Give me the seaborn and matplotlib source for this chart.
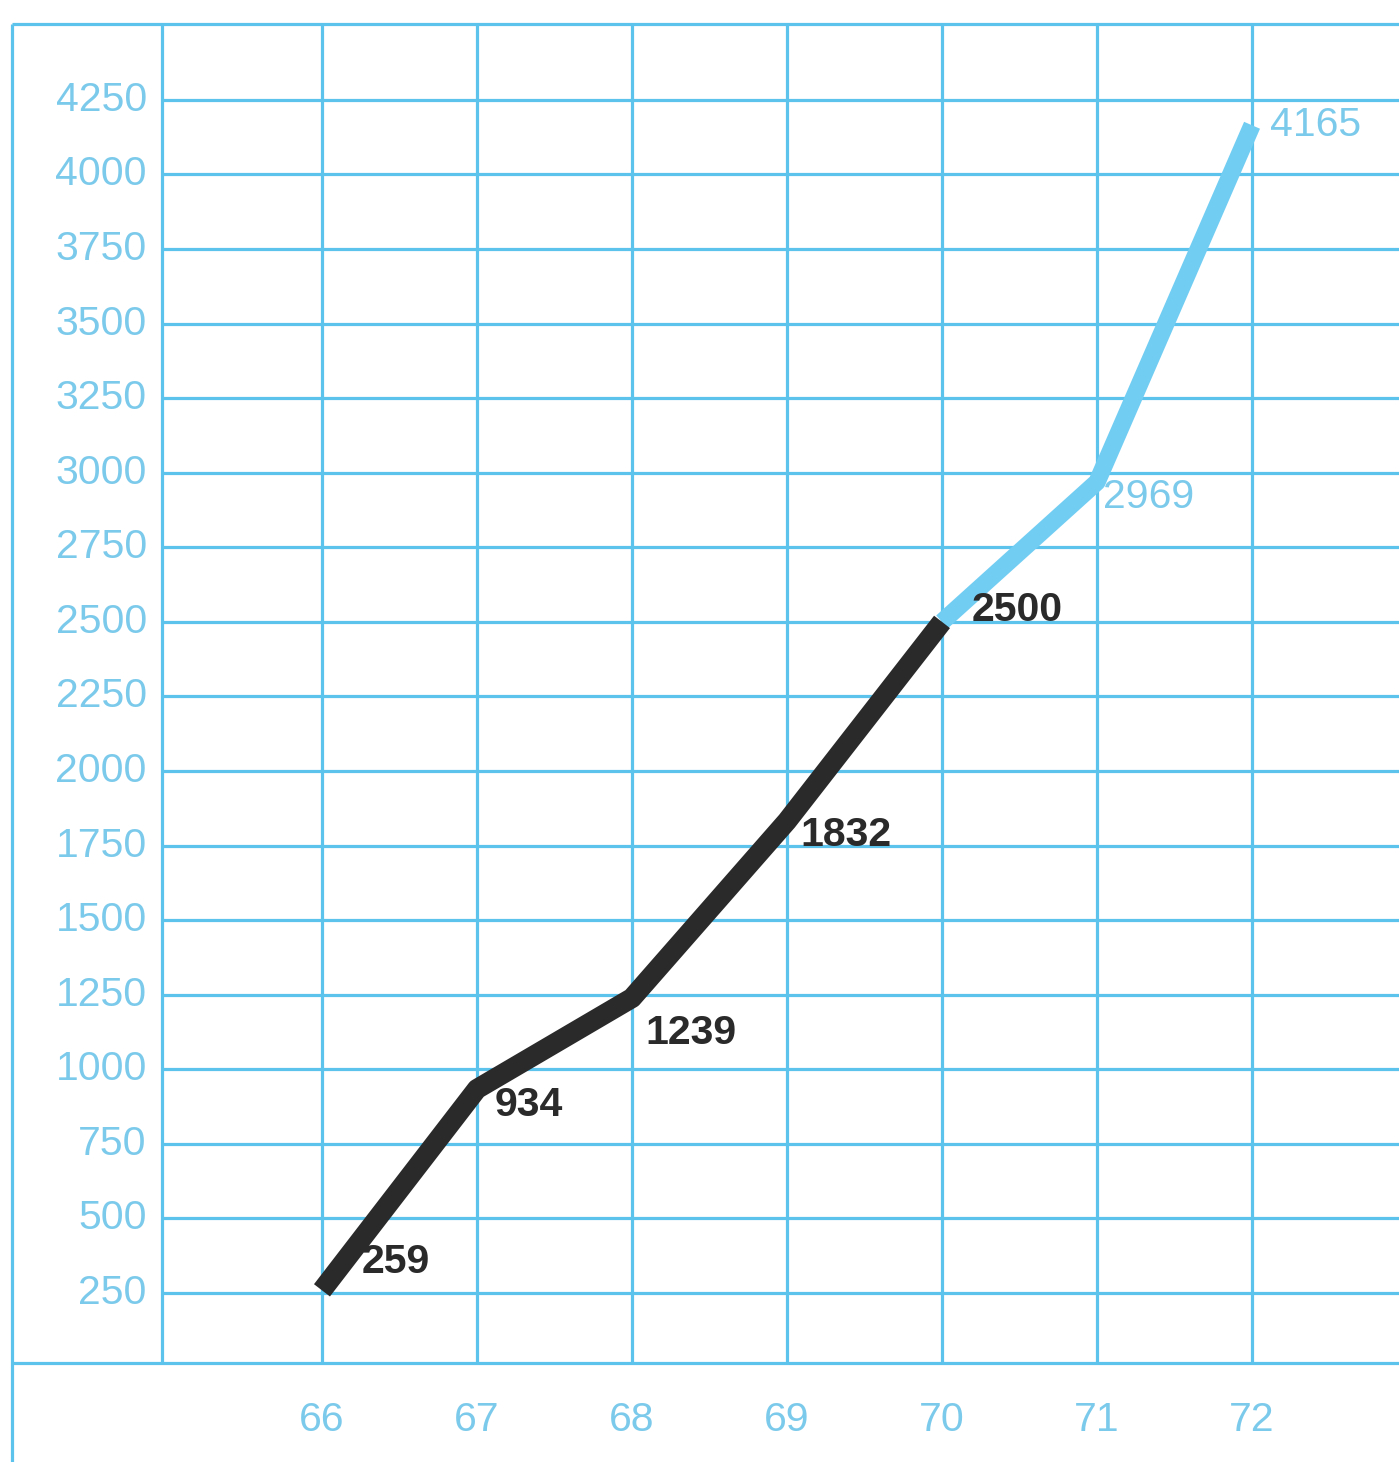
import matplotlib
matplotlib.use("Agg")
import matplotlib.pyplot as plt
import seaborn as sns
import pandas as pd

# Yearly totals ('66 to '72); the last two years are projections
years = [66, 67, 68, 69, 70, 71, 72]
values = [259, 934, 1239, 1832, 2500, 2969, 4165]
phase = ["actual", "actual", "actual", "actual", "actual", "projected", "projected"]
y_ticks = [250, 500, 750, 1000, 1250, 1500, 1750, 2000, 2250, 2500,
           2750, 3000, 3250, 3500, 3750, 4000, 4250]
x_labels = ["66", "67", "68", "69", "70", "71", "72"]

GRID = "#5cc3ed"
LIGHT = "#72cdf3"
TEXT_BLUE = "#7ccaeb"
DARK = "#2a2a2a"

sns.set_theme(style="white")
plt.rcParams["font.family"] = ["Liberation Sans", "DejaVu Sans"]

df = pd.DataFrame({"year": years, "value": values, "phase": phase})
actual = df[df["phase"] == "actual"]
# projection continues from the last actual year
projected = pd.concat([actual.tail(1), df[df["phase"] == "projected"]])

fig = plt.figure(figsize=(13.99, 14.62), dpi=100)
ax = fig.add_axes([0, 0, 1, 1])
XLIM = (63.923, 72.948)
YLIM = (-316.6, 4585)

# grid frame
top, base = 4505, 15
ax.vlines([64.97] + years, base, top, color=GRID, lw=2.3, zorder=1)
ax.vlines([64.0], -400, top, color=GRID, lw=2.3, zorder=1)
ax.hlines(y_ticks, 64.97, 74, color=GRID, lw=2.3, zorder=1)
ax.hlines([top, base], 64.0, 74, color=GRID, lw=2.3, zorder=1)

# the trend line
sns.lineplot(data=projected, x="year", y="value", ax=ax, color=LIGHT,
             lw=12.5, solid_capstyle="butt", solid_joinstyle="round",
             zorder=3, legend=False)
sns.lineplot(data=actual, x="year", y="value", ax=ax, color=DARK,
             lw=14.5, solid_capstyle="butt", solid_joinstyle="round",
             zorder=4, legend=False)
ax.set_xlim(*XLIM)
ax.set_ylim(*YLIM)
ax.axis("off")

# axis labels
for t in y_ticks:
    ax.text(64.87, t, f"{t}", ha="right", va="center", fontsize=29.5,
            color=TEXT_BLUE, zorder=5)
for x, lab in zip(years, x_labels):
    ax.text(x, -176, lab, ha="center", va="center", fontsize=29.5,
            color=TEXT_BLUE, zorder=5)

# value labels next to each point
offsets = [(40, 28), (18, -16), (13, -35), (13, -14), (30, 12), (6, -15), (18, 0)]
for (x, v, p), off in zip(zip(years, values, phase), offsets):
    is_actual = p == "actual"
    ax.annotate(f"{v}", xy=(x, v), xytext=off, textcoords="offset pixels",
                ha="left", va="center", fontsize=29.5,
                fontweight="bold" if is_actual else "normal",
                color=DARK if is_actual else TEXT_BLUE, zorder=6)

fig.savefig("out.png", dpi=100, facecolor="white")
